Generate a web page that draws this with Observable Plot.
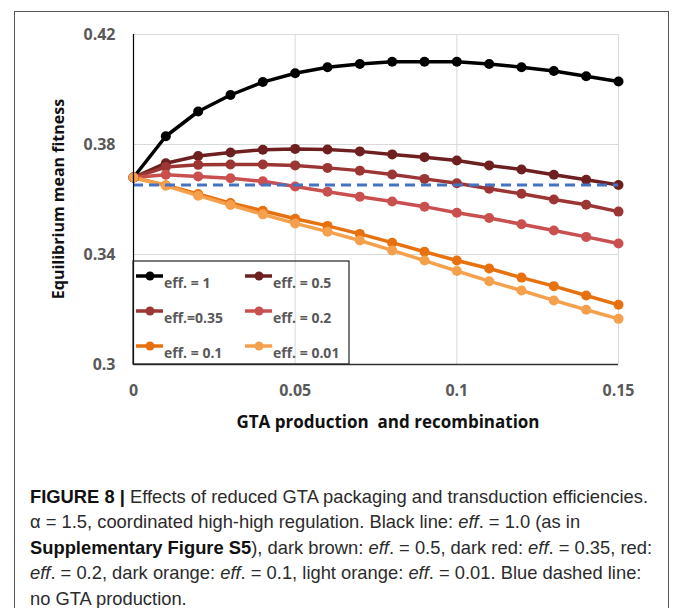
<!DOCTYPE html>
<html><head><meta charset="utf-8">
<script src="https://cdn.jsdelivr.net/npm/d3@7"></script>
<script src="https://cdn.jsdelivr.net/npm/@observablehq/plot@0.6"></script>
<style>
body{margin:0;background:#fff;width:673px;height:608px;overflow:hidden;position:relative;}
#frame{position:absolute;left:14px;top:11px;width:655px;height:640px;border:1px solid #555;box-sizing:border-box;}
#chart{position:absolute;left:0;top:0;}
#caption{position:absolute;left:30px;top:484px;font-family:"Liberation Sans",Arial,sans-serif;color:#2b2b2b;line-height:25.4px;white-space:nowrap;font-size:18.5px;transform-origin:0 0;}
#caption span.l{display:block;}
#caption b{font-weight:bold;color:#111;}
</style></head><body>
<div id="frame"></div>
<div id="chart"></div>
<div id="caption">
<span class="l" id="cap1"><b>FIGURE 8 |</b> Effects of reduced GTA packaging and transduction efficiencies.</span>
<span class="l">α = 1.5, coordinated high-high regulation. Black line: <i>eff</i>. = 1.0 (as in</span>
<span class="l" id="cap3"><b>Supplementary Figure S5</b>), dark brown: <i>eff</i>. = 0.5, dark red: <i>eff</i>. = 0.35, red:</span>
<span class="l"><i>eff</i>. = 0.2, dark orange: <i>eff</i>. = 0.1, light orange: <i>eff</i>. = 0.01. Blue dashed line:</span>
<span class="l">no GTA production.</span>
</div>
<script>
// ---- data ----
const xValues = [0, 0.01, 0.02, 0.03, 0.04, 0.05, 0.06, 0.07, 0.08, 0.09, 0.10, 0.11, 0.12, 0.13, 0.14, 0.15];
const seriesNames = ["eff. = 1", "eff. = 0.5", "eff.=0.35", "eff. = 0.2", "eff. = 0.1", "eff. = 0.01"];
const seriesColors = ["#000000", "#6e2020", "#9c3634", "#c9504f", "#e8710f", "#f5a04c"];
const eff1   = [0.368, 0.383, 0.392, 0.398, 0.4027, 0.4059, 0.4081, 0.4093, 0.4101, 0.4101, 0.4101, 0.4093, 0.4081, 0.4067, 0.4048, 0.4029];
const eff05  = [0.368, 0.3732, 0.3758, 0.3771, 0.3781, 0.3784, 0.3782, 0.3775, 0.3764, 0.3754, 0.3742, 0.3724, 0.3709, 0.369, 0.3672, 0.3653];
const eff035 = [0.368, 0.3718, 0.3726, 0.3727, 0.3727, 0.3724, 0.3715, 0.3705, 0.3691, 0.3675, 0.3659, 0.3639, 0.3621, 0.36, 0.3581, 0.3556];
const eff02  = [0.368, 0.369, 0.3684, 0.3677, 0.3666, 0.3647, 0.3628, 0.361, 0.3593, 0.3574, 0.3552, 0.3533, 0.351, 0.3487, 0.3464, 0.344];
const eff01  = [0.368, 0.3652, 0.362, 0.3587, 0.3559, 0.353, 0.3504, 0.3475, 0.3443, 0.341, 0.3378, 0.3349, 0.3316, 0.3285, 0.3251, 0.3217];
const eff001 = [0.368, 0.365, 0.3614, 0.358, 0.3546, 0.3513, 0.3483, 0.3451, 0.3415, 0.3378, 0.334, 0.3303, 0.3269, 0.3233, 0.3199, 0.3166];
const noGTA = 0.3653;
const xTicks = [0, 0.05, 0.1, 0.15];
const xTickLabels = ["0", "0.05", "0.1", "0.15"];
const yTicks = [0.3, 0.34, 0.38, 0.42];
const yTickLabels = ["0.3", "0.34", "0.38", "0.42"];
const xTitle = "GTA production  and recombination";
const yTitle = "Equilibrium mean fitness";

const seriesValues = [eff1, eff05, eff035, eff02, eff01, eff001];
const rows = seriesValues.flatMap((vals, i) => vals.map((v, j) => ({x: xValues[j], y: v, s: seriesNames[i]})));

const plot = Plot.plot({
  width: 673, height: 440,
  marginLeft: 133, marginRight: 55, marginTop: 34, marginBottom: 76,
  style: {fontFamily: "'Open Sans', sans-serif", fontSize: "16px", fontWeight: "bold", background: "transparent", overflow: "visible"},
  x: {domain: [0, 0.15]},
  y: {domain: [0.3, 0.42]},
  color: {domain: seriesNames, range: seriesColors},
  marks: [
    Plot.gridX(xTicks.slice(1), {stroke: "#d9d9d9", strokeOpacity: 1, strokeWidth: 1}),
    Plot.gridY(yTicks.slice(1), {stroke: "#d9d9d9", strokeOpacity: 1, strokeWidth: 1}),
    Plot.axisX(xTicks, {tickSize: 0, tickPadding: 20, tickFormat: d => xTickLabels[xTicks.indexOf(d)], label: null}),
    Plot.axisY(yTicks, {tickSize: 0, tickPadding: 18, tickFormat: d => yTickLabels[yTicks.indexOf(d)], label: null}),
    Plot.line(rows, {x: "x", y: "y", z: "s", stroke: "s", strokeWidth: 3.5}),
    Plot.dot(rows, {x: "x", y: "y", fill: "s", r: 5}),
    Plot.ruleY([noGTA], {stroke: "#4472c4", strokeWidth: 3, strokeDasharray: "10,6"}),
    Plot.ruleX([0], {stroke: "#000", strokeWidth: 1.2}),
    Plot.ruleY([0.3], {stroke: "#333", strokeWidth: 1.5})
  ]
});

const svg = d3.select(plot);
svg.selectAll('g[aria-label="x-axis tick label"], g[aria-label="y-axis tick label"]').attr("fill", "#595959");
svg.selectAll('g[aria-label="x-axis tick label"] text, g[aria-label="y-axis tick label"] text').attr("fill", "#595959");

// axis titles
svg.append("text").attr("x", 388).attr("y", 428).attr("text-anchor", "middle")
  .style("white-space", "pre").attr("font-size", 17).attr("font-weight", "bold").attr("fill", "#111").text(xTitle);
svg.append("text").attr("transform", "translate(58,199) rotate(-90)").attr("text-anchor", "middle")
  .attr("dominant-baseline", "central").attr("font-size", 16).attr("font-weight", "bold").attr("fill", "#111").text(yTitle);

// legend
const lg = svg.append("g").attr("text-anchor", "start");
lg.append("rect").attr("x", 133).attr("y", 261).attr("width", 216).attr("height", 103)
  .attr("fill", "none").attr("stroke", "#222").attr("stroke-width", 1.2);
seriesNames.forEach((name, i) => {
  const col = i % 2, row = Math.floor(i / 2);
  const x0 = 136 + col * 109, ly = 276 + row * 35;
  lg.append("line").attr("x1", x0).attr("x2", x0 + 27).attr("y1", ly).attr("y2", ly)
    .attr("stroke", seriesColors[i]).attr("stroke-width", 3.5);
  lg.append("circle").attr("cx", x0 + 14).attr("cy", ly).attr("r", 4.5).attr("fill", seriesColors[i]);
  lg.append("text").attr("x", x0 + 28).attr("y", ly + 12).attr("text-anchor", "start").attr("font-size", 14).attr("font-weight", "bold")
    .attr("fill", "#595959").text(name);
});

document.getElementById("chart").appendChild(plot);

// fit caption to reference width (condensed like the reference face)
const cap = document.getElementById("caption");
const measure = el => { const r = document.createRange(); r.selectNodeContents(el); return r.getBoundingClientRect().width; };
const w1 = measure(document.getElementById("cap1"));
const w3 = measure(document.getElementById("cap3"));
const s = Math.min(618 / w1, 625 / w3);
cap.style.transform = "scaleX(" + s + ")";
</script>
</body></html>
